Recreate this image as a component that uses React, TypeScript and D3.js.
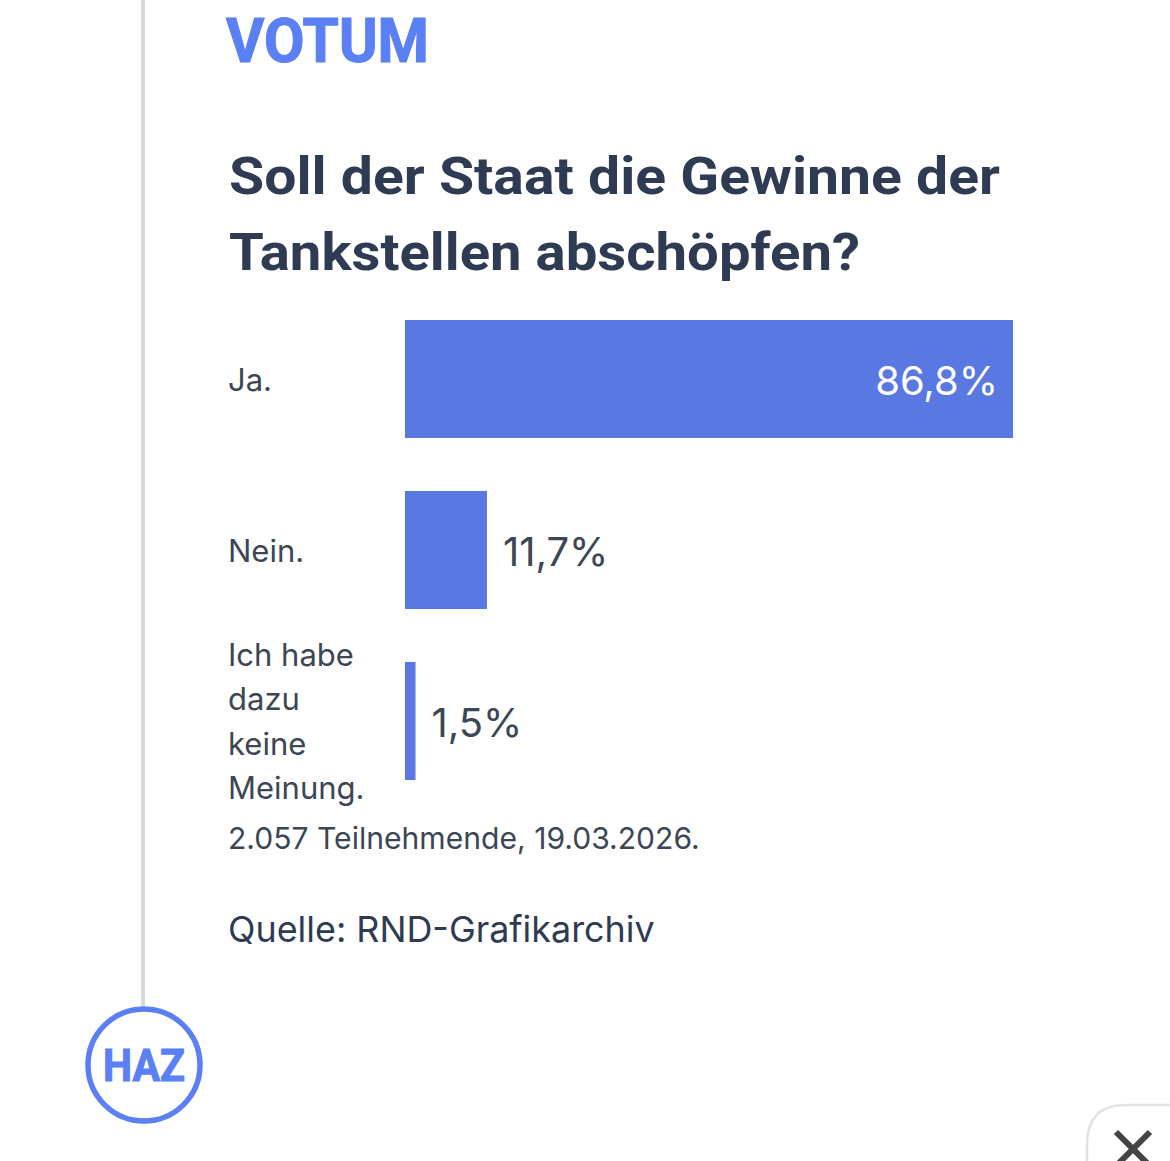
import React from "react";
import * as d3 from "d3";

const categories = ["Ja.", "Nein.", "Ich habe dazu keine Meinung."];
const values = [86.8, 11.7, 1.5];
const valueLabels = ["86,8%", "11,7%", "1,5%"];
const categoryLines = [["Ja."], ["Nein."], ["Ich habe", "dazu", "keine", "Meinung."]];
const titleLines = ["Soll der Staat die Gewinne der", "Tankstellen abschöpfen?"];
const kicker = "VOTUM";
const participants = "2.057 Teilnehmende, 19.03.2026.";
const source = "Quelle: RND-Grafikarchiv";
const logo = "HAZ";

const W = 1170;
const H = 1161;
const BLUE = "#5a78e2";
const ACCENT = "#5b80f5";
const DARK = "#2f3b52";
const TEXT = "#3c4654";
const SANS = "Inter, 'Noto Sans', sans-serif";
const HEAD = "Roboto, 'Noto Sans', sans-serif";

export default function App() {
  const x = d3.scaleLinear().domain([0, 86.8]).range([405, 1013]);
  const y = d3.scaleBand<string>().domain(categories).range([320, 780]).paddingInner(53 / 171).paddingOuter(0);
  const labelCenters = [381, 552, 721];
  return (
    <svg
      width={W}
      height={H}
      viewBox={`0 0 ${W} ${H}`}
      style={{ position: "absolute", left: 0, top: 0, background: "#fff" }}
    >
      <rect x={141} y={0} width={4} height={1010} fill="#d8d8da" />
      <text x={226} y={62} fontFamily={HEAD} fontWeight={700} fontSize={62} fill={ACCENT} stroke={ACCENT} strokeWidth={1.2} textLength={203} lengthAdjust="spacingAndGlyphs">
        {kicker}
      </text>
      {titleLines.map((t, i) => (
        <text key={t} x={229} y={[194, 270][i]} fontFamily={HEAD} fontWeight={700} fontSize={52} fill={DARK}
          textLength={[771, 631][i]} lengthAdjust="spacingAndGlyphs">
          {t}
        </text>
      ))}
      {categories.map((c, i) => {
        const by = y(c)!;
        const bw = y.bandwidth();
        const inside = i === 0;
        const lines = categoryLines[i];
        return (
          <g key={c}>
            <rect x={x(0)} y={by} width={x(values[i]) - x(0)} height={bw} fill={BLUE} />
            {lines.map((l, j) => (
              <text
                key={l}
                x={228}
                y={lines.length > 1 ? 666 + j * 44.3 : labelCenters[i] + 10}
                fontFamily={SANS}
                fontSize={31}
                fill={TEXT}
              >
                {l}
              </text>
            ))}
            <text
              x={inside ? x(values[i]) - 15 : x(values[i]) + 16}
              y={by + bw / 2 + 15.5}
              textAnchor={inside ? "end" : "start"}
              fontFamily={SANS}
              fontSize={40}
              fill={inside ? "#fff" : TEXT}
            >
              {valueLabels[i]}
            </text>
          </g>
        );
      })}
      <text x={228} y={849} fontFamily={SANS} fontSize={30.1} fill={TEXT}>{participants}</text>
      <text x={228} y={942} fontFamily={SANS} fontSize={35.9} fill={DARK}>{source}</text>
      <circle cx={144} cy={1065} r={56} fill="#fff" stroke={ACCENT} strokeWidth={5.5} />
      <text x={144} y={1081} textAnchor="middle" fontFamily={HEAD} fontWeight={700} fontSize={44} fill={ACCENT} stroke={ACCENT} strokeWidth={1} textLength={82} lengthAdjust="spacingAndGlyphs">
        {logo}
      </text>
      <path d="M1172,1105 H1125 Q1087,1105 1087,1145 V1163" fill="#fff" stroke="#e2e2e2" strokeWidth={2.5} />
      <path d="M1116,1132 L1150,1166 M1150,1132 L1116,1166" stroke="#444" strokeWidth={6} fill="none" />
    </svg>
  );
}
